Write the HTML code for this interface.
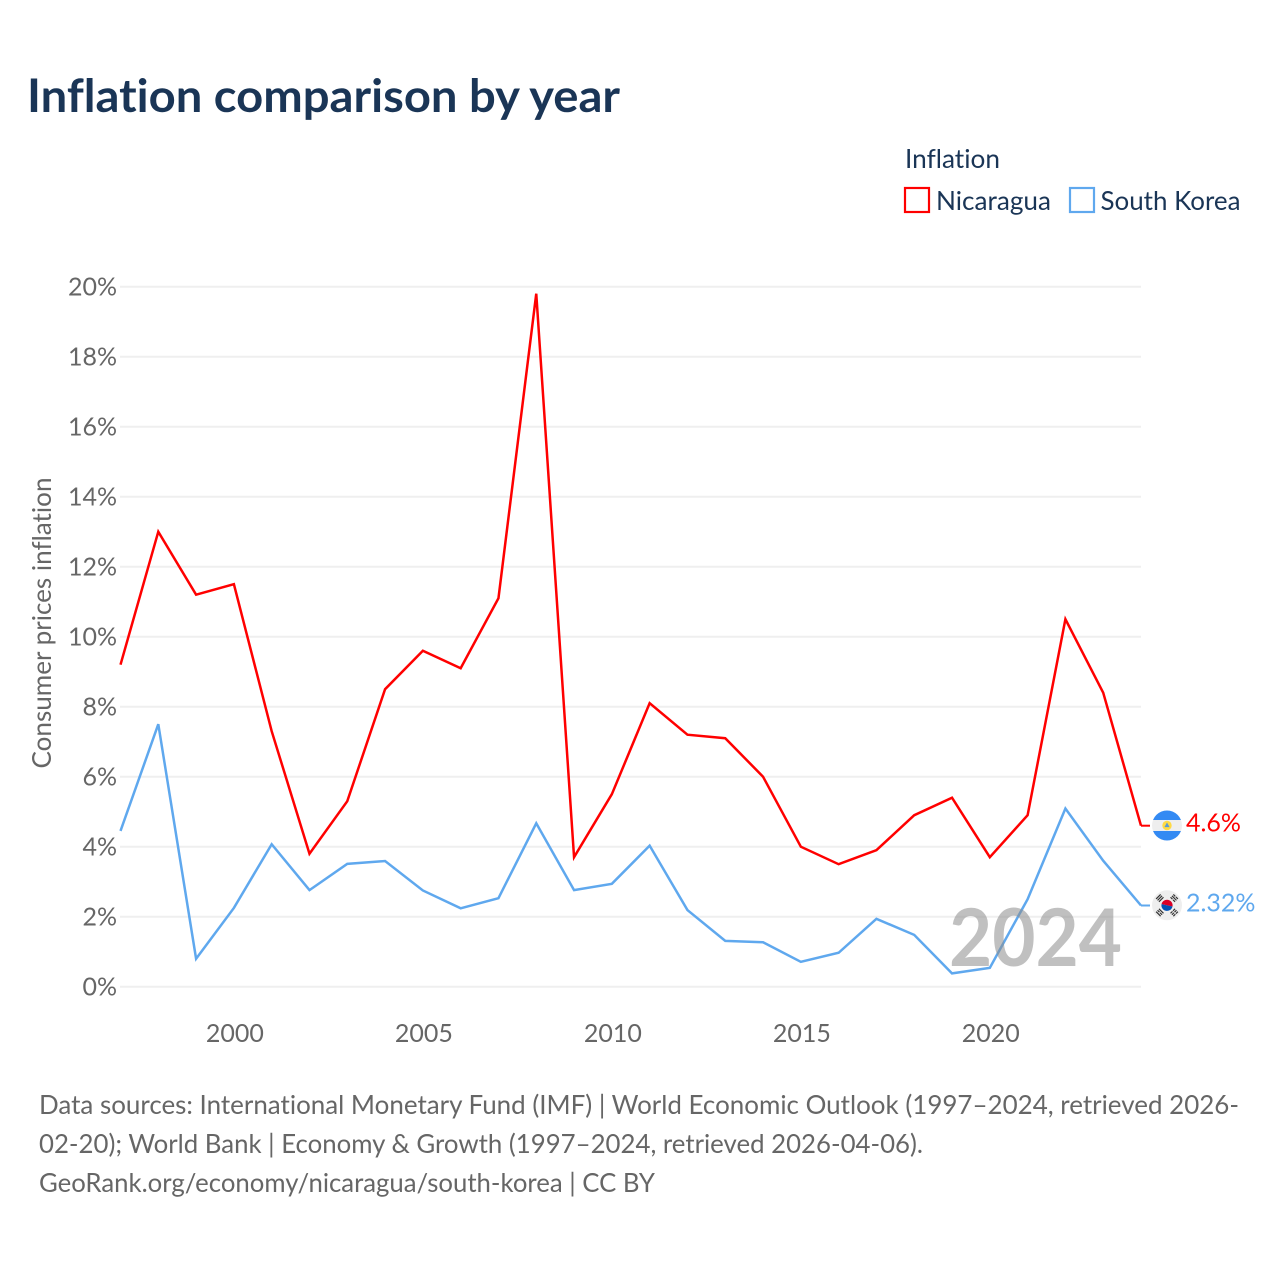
<!DOCTYPE html>
<html lang="en">
<head>
<meta charset="utf-8">
<title>Inflation comparison by year</title>
<style>
html,body{margin:0;padding:0;background:#fff;width:1280px;height:1280px;overflow:hidden}
svg{display:block}
text{font-family:"Lato","Carlito","Liberation Sans",sans-serif;font-variant-ligatures:none;font-feature-settings:"liga" 0,"clig" 0,"dlig" 0}
</style>
</head>
<body>
<svg id="chart" xmlns="http://www.w3.org/2000/svg" width="1280" height="1280" viewBox="0 0 1280 1280">
  <rect x="0" y="0" width="1280" height="1280" fill="#fff"/>
  <text x="27" y="112" font-size="46" font-weight="700" fill="#1a3556" textLength="593" lengthAdjust="spacingAndGlyphs">Inflation comparison by year</text>

  <g>
    <text x="905" y="168" font-size="26" fill="#1a3556" textLength="95" lengthAdjust="spacingAndGlyphs">Inflation</text>
    <g>
      <rect x="905" y="188" width="24" height="24" fill="#fff" stroke="#ff0000" stroke-width="2.2"/>
      <text x="936" y="210" font-size="26" fill="#1a3556" textLength="115" lengthAdjust="spacingAndGlyphs">Nicaragua</text>
    </g>
    <g>
      <rect x="1070" y="188" width="24" height="24" fill="#fff" stroke="#5fa8ee" stroke-width="2.2"/>
      <text x="1100.5" y="210" font-size="26" fill="#1a3556" textLength="140" lengthAdjust="spacingAndGlyphs">South Korea</text>
    </g>
  </g>

  <g id="grid"></g>
  <g id="yticks"></g>
  <g id="xticks"></g>
  <text transform="translate(51,768.5) rotate(-90)" font-size="26" fill="#666" textLength="291" lengthAdjust="spacingAndGlyphs">Consumer prices inflation</text>

  <g id="series"></g>

  <text x="949" y="966" font-size="80" font-weight="700" fill="#8c8c8c" fill-opacity="0.55" textLength="173" lengthAdjust="spacingAndGlyphs">2024</text>

  <g id="flag-ni">
    <clipPath id="clip-ni"><circle cx="0" cy="0" r="15"/></clipPath>
    <g clip-path="url(#clip-ni)">
      <rect x="-15" y="-15" width="30" height="30" fill="#eeeeee"/>
      <rect x="-15" y="-15" width="30" height="9.5" fill="#338af3"/>
      <rect x="-15" y="5.5" width="30" height="9.5" fill="#338af3"/>
    </g>
    <circle cx="0" cy="0" r="4.7" fill="#ffda44"/>
    <path d="M-2.6 1.6L0 -3L2.6 1.6Z" fill="#5b9bd5"/>
  </g>
  <g id="flag-kr">
    <circle cx="0" cy="0" r="15" fill="#eeeeee"/>
    <g transform="rotate(12)">
      <path d="M-5.6 0A5.6 5.6 0 0 1 5.6 0Z" fill="#d80027"/>
      <path d="M-5.6 0A5.6 5.6 0 0 0 5.6 0Z" fill="#0052b4"/>
    </g>
    <g fill="#333">
      <g transform="translate(-7.2,-7.2) rotate(-45)"><rect x="-3.2" y="-2.6" width="6.4" height="1.2"/><rect x="-3.2" y="-0.6" width="6.4" height="1.2"/><rect x="-3.2" y="1.4" width="6.4" height="1.2"/></g>
      <g transform="translate(7.2,-7.2) rotate(45)"><rect x="-3.2" y="-2.6" width="2.8" height="1.2"/><rect x="0.4" y="-2.6" width="2.8" height="1.2"/><rect x="-3.2" y="-0.6" width="6.4" height="1.2"/><rect x="-3.2" y="1.4" width="2.8" height="1.2"/><rect x="0.4" y="1.4" width="2.8" height="1.2"/></g>
      <g transform="translate(-7.2,7.2) rotate(45)"><rect x="-3.2" y="-2.6" width="6.4" height="1.2"/><rect x="-3.2" y="-0.6" width="2.8" height="1.2"/><rect x="0.4" y="-0.6" width="2.8" height="1.2"/><rect x="-3.2" y="1.4" width="6.4" height="1.2"/></g>
      <g transform="translate(7.2,7.2) rotate(-45)"><rect x="-3.2" y="-2.6" width="2.8" height="1.2"/><rect x="0.4" y="-2.6" width="2.8" height="1.2"/><rect x="-3.2" y="-0.6" width="2.8" height="1.2"/><rect x="0.4" y="-0.6" width="2.8" height="1.2"/><rect x="-3.2" y="1.4" width="2.8" height="1.2"/><rect x="0.4" y="1.4" width="2.8" height="1.2"/></g>
    </g>
  </g>

  <g font-size="26" fill="#666">
    <text x="39" y="1114" textLength="1200" lengthAdjust="spacingAndGlyphs">Data sources: International Monetary Fund (IMF) | World Economic Outlook (1997–2024, retrieved 2026-</text>
    <text x="39" y="1153" textLength="884" lengthAdjust="spacingAndGlyphs">02-20); World Bank | Economy &amp; Growth (1997–2024, retrieved 2026-04-06).</text>
    <text x="39" y="1192" textLength="616" lengthAdjust="spacingAndGlyphs">GeoRank.org/economy/nicaragua/south-korea | CC BY</text>
  </g>
</svg>
<script>
const years = [1997,1998,1999,2000,2001,2002,2003,2004,2005,2006,2007,2008,2009,2010,2011,2012,2013,2014,2015,2016,2017,2018,2019,2020,2021,2022,2023,2024];
const nicaragua = [9.2,13.0,11.2,11.5,7.3,3.8,5.3,8.5,9.6,9.1,11.1,19.8,3.7,5.5,8.1,7.2,7.1,6.0,4.0,3.5,3.9,4.9,5.4,3.7,4.9,10.5,8.4,4.6];
const southKorea = [4.45,7.5,0.8,2.25,4.07,2.76,3.51,3.59,2.75,2.24,2.53,4.67,2.76,2.94,4.03,2.19,1.31,1.27,0.71,0.97,1.94,1.48,0.38,0.54,2.5,5.09,3.6,2.32];
const yTicks = [0,2,4,6,8,10,12,14,16,18,20];
const xTicks = [2000,2005,2010,2015,2020];
const nicaraguaEndLabel = "4.6%";
const southKoreaEndLabel = "2.32%";

const NS = 'http://www.w3.org/2000/svg';
const xScale = v => 120.5 + (v - 1997) * (1141 - 120.5) / 27;
const yScale = v => 986.7 - v * 35;
const FONT = 26;

function make(parent, tag, attrs) {
  const el = document.createElementNS(NS, tag);
  for (const k in attrs) el.setAttribute(k, attrs[k]);
  parent.appendChild(el);
  return el;
}

const grid = document.getElementById('grid');
const yt = document.getElementById('yticks');
yTicks.forEach(t => {
  const line = make(grid, 'line', {x1: 120, x2: 1141, y1: yScale(t), y2: yScale(t), stroke: '#efefef', 'stroke-width': 2});
  
  
  const lab = make(yt, 'text', {x: 117, y: yScale(t) + 8.6, 'text-anchor': 'end', 'font-size': FONT - 1, fill: '#666'});
  
  
  lab.textContent = t + '%';
});

const xt = document.getElementById('xticks');
xTicks.forEach(t => {
  const lab = make(xt, 'text', {x: xScale(t) + 1, y: 1042, 'text-anchor': 'middle', 'font-size': FONT - 1, fill: '#666'});
  
  
  lab.textContent = t;
});

const seriesGroup = document.getElementById('series');
function drawSeries(values, color, name, label) {
  const pts = values.map((v, i) => xScale(years[i]) + ',' + yScale(v));
  const last = values[values.length - 1];
  const line = make(seriesGroup, 'polyline', {points: pts.join(' '), fill: 'none', stroke: color, 'stroke-width': 2.5, 'stroke-linejoin': 'miter'});
  
  
  const y = yScale(last);
  const conn = make(seriesGroup, 'line', {x1: xScale(years[years.length - 1]), x2: 1150, y1: y, y2: y, stroke: color, 'stroke-width': 2});
  
  
  const flag = document.getElementById(name === 'nicaragua' ? 'flag-ni' : 'flag-kr');
  flag.setAttribute('transform', 'translate(1167,' + (y - 0.2) + ')');
  const svg = document.getElementById('chart');
  const t = make(svg, 'text', {x: 1186, y: y + 6, 'font-size': FONT - 1, fill: color});
  
  
  t.textContent = label;
}
drawSeries(nicaragua, '#ff0000', 'nicaragua', nicaraguaEndLabel);
drawSeries(southKorea, '#5fa8ee', 'south-korea', southKoreaEndLabel);
</script>
</body>
</html>
